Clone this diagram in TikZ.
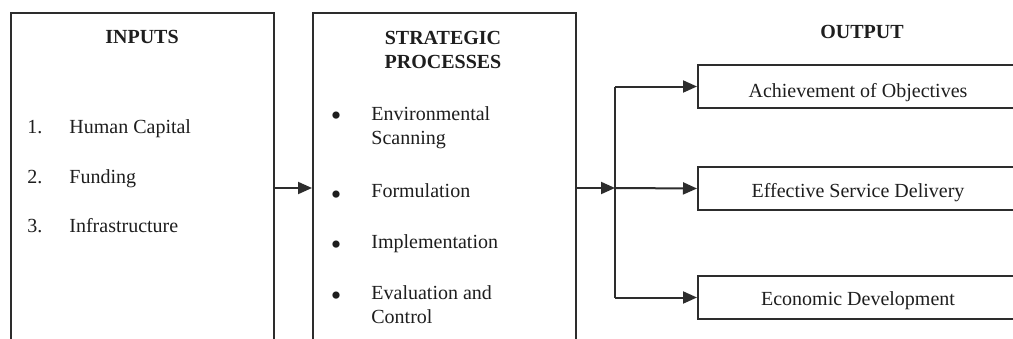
\documentclass[tikz,border=0pt]{standalone}
\usepackage{fontspec}
\setmainfont{Liberation Serif}
\usetikzlibrary{arrows.meta}
\definecolor{ln}{RGB}{45,45,45}
\definecolor{tx}{RGB}{30,30,30}
\begin{document}
\begin{tikzpicture}[x=0.5pt,y=-0.5pt,
  bigbox/.style={draw=ln,line width=1pt,rectangle,inner sep=0pt},
  outbox/.style={draw=ln,line width=1pt,rectangle,inner sep=0pt,minimum width=166pt,minimum height=21.5pt},
  conn/.style={draw=ln,line width=1pt},
  arr/.style={conn,-{Triangle[length=7pt,width=6pt]}},
  txt/.style={inner sep=0pt,text=tx,font=\fontsize{10}{12}\selectfont},
  bul/.style={inner sep=0pt,text=tx,font=\fontsize{15}{15}\selectfont},
  ttl/.style={txt,font=\fontsize{10}{12}\selectfont\bfseries}]
\useasboundingbox (0,0) rectangle (1013,338);
\clip (0,0) rectangle (1013,338);
\fill[white] (0,0) rectangle (1013,338);
% boxes
\node[bigbox,minimum width=131.5pt,minimum height=172pt] (inputs) at (142.5,185) {};
\node[bigbox,minimum width=131.5pt,minimum height=172pt] (strat) at (444.5,185) {};
\node[outbox] (o1) at (864,86.5) {};
\node[outbox] (o2) at (864,188.5) {};
\node[outbox] (o3) at (864,297.5) {};
% titles
\node[ttl,anchor=base] (tin) at (142,43) {INPUTS};
\node[ttl,anchor=base] (ts1) at (443,44) {STRATEGIC};
\node[ttl,anchor=base] (ts2) at (443,68) {PROCESSES};
\node[ttl,anchor=base] (tout) at (862,38) {OUTPUT};
% inputs list
\node[txt,anchor=base west] (n1) at (27,133) {1.};
\node[txt,anchor=base west] (i1) at (69,133) {Human Capital};
\node[txt,anchor=base west] (n2) at (27,183) {2.};
\node[txt,anchor=base west] (i2) at (69,183) {Funding};
\node[txt,anchor=base west] (n3) at (27,232) {3.};
\node[txt,anchor=base west] (i3) at (69,232) {Infrastructure};
% strategic list
\node[bul] (b1) at (336,119) {\textbullet};
\node[txt,anchor=base west] (s1a) at (371,120) {Environmental};
\node[txt,anchor=base west] (s1b) at (371,144) {Scanning};
\node[bul] (b2) at (336,198) {\textbullet};
\node[txt,anchor=base west] (s2) at (371,197) {Formulation};
\node[bul] (b3) at (336,248) {\textbullet};
\node[txt,anchor=base west] (s3) at (371,248) {Implementation};
\node[bul] (b4) at (336,299) {\textbullet};
\node[txt,anchor=base west] (s4a) at (371,299) {Evaluation and};
\node[txt,anchor=base west] (s4b) at (371,323) {Control};
% output texts
\node[txt,anchor=base] (ot1) at (858,97) {Achievement of Objectives};
\node[txt,anchor=base] (ot2) at (858,197) {Effective Service Delivery};
\node[txt,anchor=base] (ot3) at (858,305) {Economic Development};
% connectors
\coordinate (ay) at (0,188);
\coordinate (j) at (615,188);
\draw[arr] (inputs.east |- ay) -- (strat.west |- ay);
\draw[arr] (strat.east |- ay) -- (j);
\draw[conn] (j |- o1.west) -- (j |- o3.west);
\draw[arr] (j |- o1.west) -- (o1.west);
\draw[arr] (j) -- (o2.west);
\draw[arr] (j |- o3.west) -- (o3.west);
\end{tikzpicture}
\end{document}
